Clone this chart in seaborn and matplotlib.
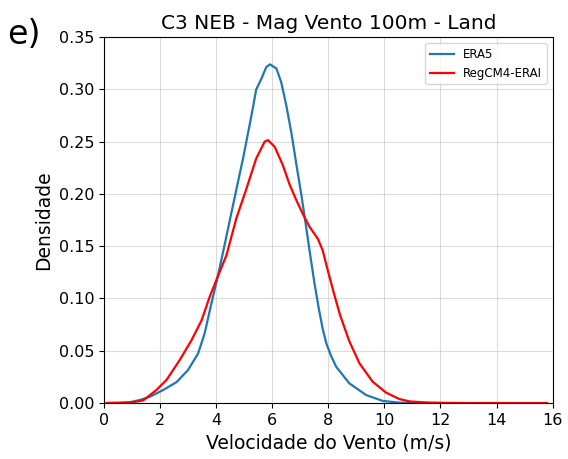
import numpy as np
import pandas as pd
import matplotlib
matplotlib.use("Agg")
import matplotlib.pyplot as plt
import seaborn as sns

# Density curves
era5_x = [0.1, 0.6, 0.93, 1.3, 1.64, 2.11, 2.59, 3.0, 3.36, 3.59, 3.83, 4.03, 4.25, 4.60,
          4.96, 5.26, 5.43, 5.61, 5.79, 5.92, 6.15, 6.32, 6.50, 6.68, 6.86, 7.04, 7.19,
          7.33, 7.51, 7.66, 7.80, 7.93, 8.10, 8.28, 8.75, 9.35, 9.94, 10.5, 11.0, 11.5]
era5_y = [0.0, 0.0002, 0.0008, 0.003, 0.006, 0.0124, 0.020, 0.0316, 0.0475, 0.0666, 0.095,
          0.1176, 0.1447, 0.189, 0.234, 0.275, 0.300, 0.310, 0.3215, 0.324, 0.320, 0.307,
          0.285, 0.259, 0.2285, 0.199, 0.172, 0.146, 0.114, 0.0905, 0.071, 0.057, 0.045,
          0.0347, 0.0188, 0.0076, 0.002, 0.0004, 0.0001, 0.0]

reg_x = [0.1, 0.6, 1.0, 1.40, 1.87, 2.23, 2.70, 3.12, 3.48, 3.77, 4.03, 4.37, 4.72, 5.08,
         5.43, 5.73, 5.85, 6.09, 6.38, 6.62, 6.86, 7.09, 7.33, 7.63, 7.80, 7.98, 8.20,
         8.42, 8.75, 9.11, 9.58, 10.06, 10.53, 10.9, 11.5, 12.0, 13.0, 14.0, 15.8]
reg_y = [0.0, 0.0002, 0.0006, 0.0025, 0.0124, 0.022, 0.041, 0.060, 0.079, 0.1016, 0.119,
         0.1415, 0.1766, 0.205, 0.234, 0.250, 0.2515, 0.245, 0.2275, 0.209, 0.194, 0.181,
         0.1686, 0.157, 0.146, 0.127, 0.105, 0.084, 0.059, 0.038, 0.0204, 0.0099, 0.0038,
         0.0015, 0.0005, 0.0002, 0.0, 0.0, 0.0]

series_names = ["ERA5", "RegCM4-ERAI"]

df = pd.concat([
    pd.DataFrame({"x": era5_x, "y": era5_y, "fonte": series_names[0]}),
    pd.DataFrame({"x": reg_x, "y": reg_y, "fonte": series_names[1]}),
])

fig = plt.figure(figsize=(5.68, 4.59), dpi=100)
ax = fig.add_axes([0.183, 0.122, 0.790, 0.797])
sns.lineplot(data=df, x="x", y="y", hue="fonte", sort=False,
             palette={"ERA5": "#1f77b4", "RegCM4-ERAI": "red"},
             linewidth=1.6, ax=ax, estimator=None)

ax.set_xlim(0, 16)
ax.set_ylim(0, 0.35)
ax.set_xticks(np.arange(0, 17, 2))
ax.set_yticks(np.arange(0, 0.351, 0.05))
ax.set_yticklabels([f"{v:.2f}" for v in np.arange(0, 0.351, 0.05)])
ax.tick_params(labelsize=11.5)
ax.grid(True, color="#cccccc", alpha=0.7, linewidth=0.8)
ax.set_axisbelow(True)
ax.set_xlabel("Velocidade do Vento (m/s)", fontsize=13.5)
ax.set_ylabel("Densidade", fontsize=13.5)
ax.set_title("C3 NEB - Mag Vento 100m - Land", fontsize=14.5)
leg = ax.legend(loc="upper right", fontsize=8.5, title=None)
fig.text(0.012, 0.905, "e)", fontsize=24)

fig.savefig("out.png", dpi=100)
